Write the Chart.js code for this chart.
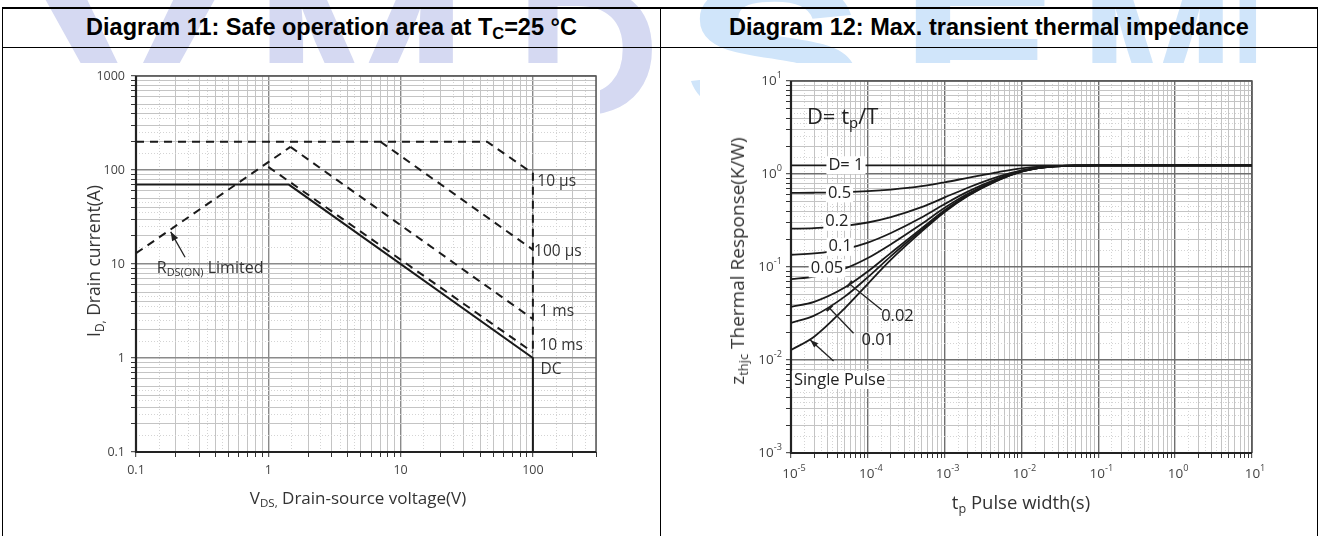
<!DOCTYPE html>
<html><head><meta charset="utf-8">
<script src="https://cdn.jsdelivr.net/npm/chart.js@4.4.1/dist/chart.umd.min.js"></script>
<style>
html,body{margin:0;padding:0;background:#fff;}
#wrap{position:relative;width:1320px;height:536px;overflow:hidden;font-family:"Liberation Sans",Arial,sans-serif;}
.ln{position:absolute;background:#000;}
.hdr{position:absolute;top:8px;height:39px;line-height:39px;text-align:center;font-weight:bold;font-size:23.5px;color:#000;white-space:nowrap;}
.hdr sub{font-size:0.7em;vertical-align:baseline;position:relative;top:0.25em;}
.cw{position:absolute;background:#fff;}
.at{position:absolute;font-family:"Open Sans",sans-serif;color:#333;white-space:nowrap;transform:translate(-50%,-50%);}
.at.rot{transform:translate(-50%,-50%) rotate(-90deg);}
.at sub{font-size:0.68em;vertical-align:baseline;position:relative;top:0.3em;}
.wm{position:absolute;top:-46px;font-family:"Liberation Sans",Arial,sans-serif;font-weight:bold;font-size:190px;line-height:190px;transform-origin:0 0;}
.wm.l{color:#d5d9f2;}
.wm.r{color:#d0e5fa;}
</style></head>
<body><div id="wrap">
  <div class="wm l" style="left:35px;transform:scaleX(1.5)">V</div>
  <div class="wm l" style="left:252px;transform:scaleX(1.38)">M</div>
  <div class="wm l" style="left:515px;transform:scaleX(1.06)">D</div>
  <div class="wm r" style="left:683px;transform:scaleX(1.45)">S</div>
  <div class="wm r" style="left:900px;transform:scaleX(1.25)">E</div>
  <div class="wm r" style="left:1080px;transform:scaleX(0.98)">M</div>
  <div class="wm r" style="left:1232px;transform:scaleX(0.6)">I</div>

  <div class="ln" style="left:2px;top:7px;width:1316px;height:2px"></div>
  <div class="ln" style="left:2px;top:47px;width:1316px;height:1px"></div>
  <div class="ln" style="left:2px;top:7px;width:1px;height:540px"></div>
  <div class="ln" style="left:660px;top:7px;width:1px;height:540px"></div>
  <div class="ln" style="left:1317px;top:7px;width:1px;height:540px"></div>
  <div class="hdr" style="left:3px;width:657px">Diagram 11: Safe operation area at T<sub>C</sub>=25 °C</div>
  <div class="hdr" style="left:661px;width:656px">Diagram 12: Max. transient thermal impedance</div>

  <div class="cw" style="left:70px;top:63px;width:530px;height:457px"><canvas id="c1" width="560" height="460" style="position:absolute;left:0;top:-3px"></canvas></div>
  <div class="cw" style="left:700px;top:63px;width:580px;height:457px"><canvas id="c2" width="600" height="460" style="position:absolute;left:0;top:-3px"></canvas></div>

  <div class="at" style="left:358px;top:497px;font-size:17px">V<sub>DS,</sub> Drain-source voltage(V)</div>
  <div class="at rot" style="left:93px;top:261px;font-size:17.5px">I<sub>D,</sub> Drain current(A)</div>
  <div class="at" style="left:1021px;top:501px;font-size:18.5px">t<sub>p</sub> Pulse width(s)</div>
  <div class="at rot" style="left:737px;top:261px;font-size:19px">z<sub>thjc</sub> Thermal Response(K/W)</div>
</div>
<script>
// ---------------- DATA: Diagram 11 (SOA) ----------------
const dcV    = [0.1, 1.43, 100, 100];
const dcI    = [70, 70, 1.0, 0.1];
const rdsV   = [0.1, 1.47];
const rdsI   = [13, 176];
const ms1V   = [1.47, 100];
const ms1I   = [176, 2.6];
const ms10V  = [1.0, 100];
const ms10I  = [108, 1.15];
const us100V = [7.05, 100];
const us100I = [200, 14.2];
const us10V  = [0.1, 45, 100, 100];
const us10I  = [200, 200, 92, 1.15];
const soaLabels = ['10 µs', '100 µs', '1 ms', '10 ms', 'DC'];

// ---------------- DATA: Diagram 12 (Zth) ----------------
const tp     = [1e-5, 2e-5, 5e-5, 1e-4, 2e-4, 5e-4, 1e-3, 2e-3, 5e-3, 1e-2, 2e-2, 5e-2, 1e-1, 10];
const zD1    = [1.24, 1.24, 1.24, 1.24, 1.24, 1.24, 1.24, 1.24, 1.24, 1.24, 1.24, 1.24, 1.24, 1.24];
const zD05   = [0.626, 0.629, 0.638, 0.653, 0.68, 0.74, 0.815, 0.91, 1.05, 1.15, 1.21, 1.235, 1.24, 1.24];
const zD02   = [0.258, 0.262, 0.277, 0.301, 0.344, 0.44, 0.56, 0.712, 0.936, 1.096, 1.192, 1.232, 1.24, 1.24];
const zD01   = [0.1355, 0.14, 0.156, 0.183, 0.232, 0.34, 0.475, 0.646, 0.898, 1.078, 1.186, 1.231, 1.24, 1.24];
const zD005  = [0.0742, 0.079, 0.0962, 0.125, 0.176, 0.29, 0.433, 0.613, 0.879, 1.069, 1.183, 1.231, 1.24, 1.24];
const zD002  = [0.0373, 0.0422, 0.0601, 0.0895, 0.142, 0.26, 0.407, 0.593, 0.868, 1.064, 1.181, 1.23, 1.24, 1.24];
const zD001  = [0.0251, 0.0300, 0.048, 0.0777, 0.131, 0.25, 0.398, 0.586, 0.864, 1.062, 1.181, 1.23, 1.24, 1.24];
const zSingle= [0.0128, 0.0178, 0.036, 0.066, 0.12, 0.24, 0.39, 0.58, 0.86, 1.06, 1.18, 1.23, 1.24, 1.24];
const zthLabels = ['D= 1', '0.5', '0.2', '0.1', '0.05', '0.02', '0.01', 'Single Pulse'];

// ---------------- helpers ----------------
const FAM = '"Open Sans", sans-serif';
const SUBS = [1, 1.5, 2, 2.5, 3, 3.5, 4, 4.5, 5, 6, 7, 8, 9];
function kindOf(v) {
  if (v === undefined || v === null) return 'none';
  const e = Math.floor(Math.log10(v) + 1e-9);
  const m = Math.round(v / Math.pow(10, e) * 1000) / 1000;
  if (Math.abs(m - 1) < 1e-6) return 'maj';
  if (Math.abs(m - Math.round(m)) < 1e-6) return 'min';
  return 'sub';
}
function logTicks(min, max) {
  const out = [];
  for (let e = Math.round(Math.log10(min)); e <= Math.round(Math.log10(max)); e++) {
    const d = Math.pow(10, e);
    for (const m of SUBS) {
      const v = parseFloat((m * d).toPrecision(8));
      if (v >= min * 0.9999 && v <= max * 1.0001) out.push(v);
    }
  }
  return out;
}
function pts(xs, ys) { return xs.map((x, i) => ({x: x, y: ys[i]})); }

function logAxis(min, max, fitProp, fitVal, labelCb, showLabels, majCol) {
  return {
    type: 'logarithmic', min: min, max: max,
    afterBuildTicks: s => { s.ticks = logTicks(min, max).map(v => ({value: v})); },
    afterFit: s => { s[fitProp] = fitVal; },
    grid: {
      color: c => { const k = kindOf(c.tick && c.tick.value); return k === 'maj' ? majCol : k === 'min' ? '#c4c4c4' : '#d4d4d4'; },
      lineWidth: c => { const k = kindOf(c.tick && c.tick.value); return k === 'maj' ? 1.4 : 1; },
      tickLength: 5,
      tickColor: c => { const k = kindOf(c.tick && c.tick.value); return k === 'sub' ? 'rgba(0,0,0,0)' : '#333'; },
      tickWidth: 1
    },
    border: {
      display: false,
      dash: c => (c.tick && kindOf(c.tick.value) === 'sub') ? [1, 2] : []
    },
    ticks: {
      display: showLabels,
      autoSkip: false, maxRotation: 0, minRotation: 0,
      padding: 6,
      color: '#444',
      font: {family: FAM, size: 12.5},
      callback: v => kindOf(v) === 'maj' ? labelCb(v) : ''
    }
  };
}

function drawRich(ctx, parts, x, y, size, align, opt) {
  opt = opt || {};
  let w = 0; const ms = [];
  for (const p of parts) {
    const fs = p[1] ? size * 0.68 : size;
    ctx.font = fs + 'px ' + FAM;
    const m = ctx.measureText(p[0]).width;
    ms.push([p[0], p[1], fs, m]); w += m;
  }
  let x0 = align === 'center' ? x - w / 2 : align === 'right' ? x - w : x;
  if (opt.bg) { ctx.fillStyle = opt.bg; ctx.fillRect(x0 - 2, y - size * 0.55, w + 4, size * 1.1); }
  ctx.fillStyle = opt.color || '#333';
  ctx.textBaseline = 'middle'; ctx.textAlign = 'left';
  for (const q of ms) {
    ctx.font = q[2] + 'px ' + FAM;
    const dy = q[1] === 1 ? size * 0.3 : q[1] === 2 ? -size * 0.38 : 0;
    ctx.fillText(q[0], x0, y + dy);
    x0 += q[3];
  }
}
function line(ctx, x1, y1, x2, y2, w) {
  ctx.beginPath(); ctx.moveTo(x1, y1); ctx.lineTo(x2, y2);
  ctx.lineWidth = w || 1.2; ctx.strokeStyle = '#222'; ctx.setLineDash([]); ctx.stroke();
}
function arrowHead(ctx, x1, y1, x2, y2, len, wid) {
  const a = Math.atan2(y2 - y1, x2 - x1);
  ctx.beginPath();
  ctx.moveTo(x2, y2);
  ctx.lineTo(x2 - len * Math.cos(a) + wid * Math.sin(a), y2 - len * Math.sin(a) - wid * Math.cos(a));
  ctx.lineTo(x2 - len * Math.cos(a) - wid * Math.sin(a), y2 - len * Math.sin(a) + wid * Math.cos(a));
  ctx.closePath(); ctx.fillStyle = '#222'; ctx.fill();
}
function barMark(ctx, x1, y1, x2, y2, half) {
  const a = Math.atan2(y2 - y1, x2 - x1);
  line(ctx, x1 + half * Math.sin(a), y1 - half * Math.cos(a), x1 - half * Math.sin(a), y1 + half * Math.cos(a), 2.2);
}

const framePlugin = {
  id: 'frame',
  beforeDatasetsDraw(chart) {
    const {ctx, chartArea: a} = chart;
    ctx.save();
    ctx.setLineDash([]);
    ctx.strokeStyle = '#555'; ctx.lineWidth = 1.5;
    ctx.beginPath(); ctx.moveTo(a.left, a.top); ctx.lineTo(a.right, a.top); ctx.lineTo(a.right, a.bottom); ctx.stroke();
    ctx.strokeStyle = '#222'; ctx.lineWidth = 2.2;
    ctx.beginPath(); ctx.moveTo(a.left, a.top); ctx.lineTo(a.left, a.bottom); ctx.lineTo(a.right, a.bottom); ctx.stroke();
    ctx.restore();
  }
};

const lineDefaults = {pointRadius: 0, pointHoverRadius: 0, fill: false, borderColor: '#1a1a1a', tension: 0};

// ---------------- Chart 1: SOA ----------------
const dash = [8, 6];
new Chart(document.getElementById('c1'), {
  type: 'line',
  data: {
    datasets: [
      Object.assign({label: 'DC', data: pts(dcV, dcI), borderWidth: 2}, lineDefaults),
      Object.assign({label: 'RDS(on)', data: pts(rdsV, rdsI), borderWidth: 2, borderDash: dash}, lineDefaults),
      Object.assign({label: '1 ms', data: pts(ms1V, ms1I), borderWidth: 2, borderDash: dash}, lineDefaults),
      Object.assign({label: '10 ms', data: pts(ms10V, ms10I), borderWidth: 2, borderDash: dash}, lineDefaults),
      Object.assign({label: '100 µs', data: pts(us100V, us100I), borderWidth: 2, borderDash: dash}, lineDefaults),
      Object.assign({label: '10 µs', data: pts(us10V, us10I), borderWidth: 2, borderDash: dash}, lineDefaults)
    ]
  },
  options: {
    responsive: false, animation: false, devicePixelRatio: 1,
    layout: {padding: {top: 16, right: 34, left: 0, bottom: 0}},
    plugins: {legend: {display: false}, tooltip: {enabled: false}},
    scales: {
      x: logAxis(0.1, 300, 'height', 68, v => String(v), true, '#8a8a8a'),
      y: logAxis(0.1, 1000, 'width', 66, v => String(v), true, '#8a8a8a')
    }
  },
  plugins: [framePlugin, {
    id: 'soaLabels',
    afterDatasetsDraw(chart) {
      const {ctx} = chart; const X = chart.scales.x, Y = chart.scales.y;
      const px = v => X.getPixelForValue(v), py = v => Y.getPixelForValue(v);
      ctx.save();
      const pos = [[108, 75], [102, 13.4], [112, 3.09], [112, 1.34], [114, 0.745]];
      soaLabels.forEach((t, i) => drawRich(ctx, [[t, 0]], px(pos[i][0]), py(pos[i][1]), 15.5, 'left'));
      drawRich(ctx, [['R', 0], ['DS(ON)', 1], [' Limited', 0]], px(0.1435), py(9.07), 16, 'left');
      const ax1 = px(0.235), ay1 = py(11.8), ax2 = px(0.183), ay2 = py(22);
      line(ctx, ax1, ay1, ax2, ay2, 1.3);
      arrowHead(ctx, ax1, ay1, ax2, ay2, 9, 3.5);
      ctx.restore();
    }
  }]
});

// ---------------- Chart 2: Zth ----------------
new Chart(document.getElementById('c2'), {
  type: 'line',
  data: {
    datasets: [
      Object.assign({label: 'D=1', data: pts(tp, zD1), borderWidth: 1.8}, lineDefaults),
      Object.assign({label: '0.5', data: pts(tp, zD05), borderWidth: 1.8, cubicInterpolationMode: 'monotone'}, lineDefaults),
      Object.assign({label: '0.2', data: pts(tp, zD02), borderWidth: 1.8, cubicInterpolationMode: 'monotone'}, lineDefaults),
      Object.assign({label: '0.1', data: pts(tp, zD01), borderWidth: 1.8, cubicInterpolationMode: 'monotone'}, lineDefaults),
      Object.assign({label: '0.05', data: pts(tp, zD005), borderWidth: 1.8, cubicInterpolationMode: 'monotone'}, lineDefaults),
      Object.assign({label: '0.02', data: pts(tp, zD002), borderWidth: 1.8, cubicInterpolationMode: 'monotone'}, lineDefaults),
      Object.assign({label: '0.01', data: pts(tp, zD001), borderWidth: 1.8, cubicInterpolationMode: 'monotone'}, lineDefaults),
      Object.assign({label: 'Single', data: pts(tp, zSingle), borderWidth: 1.8, cubicInterpolationMode: 'monotone'}, lineDefaults)
    ]
  },
  options: {
    responsive: false, animation: false, devicePixelRatio: 1,
    layout: {padding: {top: 21, right: 48, left: 0, bottom: 0}},
    plugins: {legend: {display: false}, tooltip: {enabled: false}},
    scales: {
      x: logAxis(1e-5, 10, 'height', 67, v => '', false, '#6f6f6f'),
      y: logAxis(1e-3, 10, 'width', 91, v => '', false, '#6f6f6f')
    }
  },
  plugins: [framePlugin, {
    id: 'zthLabels',
    afterDatasetsDraw(chart) {
      const {ctx, chartArea: a} = chart; const X = chart.scales.x, Y = chart.scales.y;
      const px = v => X.getPixelForValue(v), py = v => Y.getPixelForValue(v);
      ctx.save();
      X.ticks.forEach(t => { if (kindOf(t.value) === 'maj') {
        const e = Math.round(Math.log10(t.value));
        drawRich(ctx, [['10', 0], [String(e), 2]], px(t.value) + 3, a.bottom + 21, 13.5, 'center', {color: '#444'});
      }});
      Y.ticks.forEach(t => { if (kindOf(t.value) === 'maj') {
        const e = Math.round(Math.log10(t.value));
        drawRich(ctx, [['10', 0], [String(e), 2]], a.left - 9, py(t.value), 13.5, 'right', {color: '#444'});
      }});
      drawRich(ctx, [['D= t', 0], ['p', 1], ['/T', 0]], px(1.61e-5), py(4.07), 22, 'left', {color: '#222'});
      const pos = [[5.19e-5, 1.24], [4.28e-5, 0.62], [3.96e-5, 0.307], [4.37e-5, 0.165], [2.94e-5, 0.0968]];
      for (let i = 0; i < 5; i++) drawRich(ctx, [[zthLabels[i], 0]], px(pos[i][0]), py(pos[i][1]), 16.5, 'center', {bg: '#fff', color: '#222'});
      let x1 = px(5.78e-5), y1 = py(0.0656), x2 = px(1.52e-4), y2 = py(0.0345);
      line(ctx, x1, y1, x2, y2, 1.3); barMark(ctx, x1, y1, x2, y2, 4);
      drawRich(ctx, [[zthLabels[5], 0]], px(2.43e-4), py(0.0292), 16.5, 'center', {color: '#222'});
      x1 = px(3.18e-5); y1 = py(0.036); x2 = px(6.52e-5); y2 = py(0.0194);
      line(ctx, x1, y1, x2, y2, 1.3); barMark(ctx, x1, y1, x2, y2, 4);
      drawRich(ctx, [[zthLabels[6], 0]], px(1.35e-4), py(0.0162), 16.5, 'center', {color: '#222'});
      x1 = px(3.58e-5); y1 = py(0.00976); x2 = px(1.78e-5); y2 = py(0.0164);
      line(ctx, x1, y1, x2, y2, 1.3); arrowHead(ctx, x1, y1, x2, y2, 8, 3);
      drawRich(ctx, [[zthLabels[7], 0]], px(1.09e-5), py(0.0061), 16.5, 'left', {bg: '#fff', color: '#222'});
      ctx.restore();
    }
  }]
});
</script>
</body></html>
